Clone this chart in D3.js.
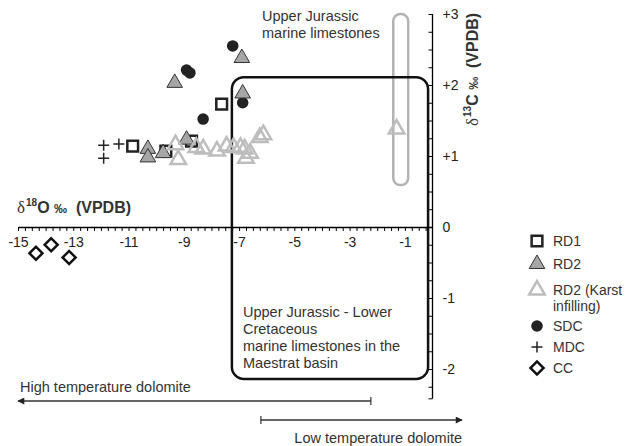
<!DOCTYPE html>
<html>
<head>
<meta charset="utf-8">
<script src="https://cdn.jsdelivr.net/npm/d3@7"></script>
<style>
  body { margin: 0; background: #fff; }
  text { font-family: "Liberation Sans", Arial, sans-serif; }
</style>
</head>
<body>
<div id="chart"></div>
<script>
// Data: [d18O, d13C] per sample group
const rd1 = [[-7.63, 1.73], [-10.85, 1.14], [-9.65, 1.07], [-8.72, 1.21]];
const rd2 = [[-6.9, 2.38], [-9.33, 2.03], [-6.87, 1.88], [-8.9, 1.23], [-10.3, 1.1], [-10.3, 0.98], [-9.75, 1.04]];
const rd2Karst = [[-9.3, 1.16], [-9.2, 0.95], [-8.55, 1.12], [-8.3, 1.1], [-7.8, 1.07], [-7.45, 1.14], [-7.2, 1.12],
                  [-6.95, 1.12], [-6.8, 1.1], [-6.75, 0.97], [-6.6, 1.04], [-6.25, 1.26], [-6.12, 1.3], [-1.3, 1.38]];
const sdc = [[-7.23, 2.55], [-8.9, 2.21], [-8.78, 2.17], [-6.87, 1.75], [-8.3, 1.52]];
const mdc = [[-11.9, 1.15], [-11.35, 1.17], [-11.9, 0.97]];
const cc = [[-14.35, -0.37], [-13.8, -0.25], [-13.15, -0.43]];

const xTickLabels = [-15, -13, -11, -9, -7, -5, -3, -1];
const yTickLabels = [3, 2, 1, 0, -1, -2];

const legendNames = ['RD1', 'RD2', 'RD2 (Karst|infilling)', 'SDC', 'MDC', 'CC'];

// Fields drawn as boxes: [x0, x1, y0, y1]
const marineBox = [-7.26, -0.16, -2.14, 2.11];
const jurassicBar = [-1.42, -0.88, 0.59, 3.0];

const width = 626, height = 446;

const svg = d3.select('#chart').append('svg')
    .attr('width', width)
    .attr('height', height);

const x = d3.scaleLinear().domain([-15, 0]).range([18, 432.5]);
const y = d3.scaleLinear().domain([-2, 3]).range([369, 14]);

// Field boxes
svg.append('rect')
    .attr('x', x(jurassicBar[0]))
    .attr('y', y(jurassicBar[3]))
    .attr('width', x(jurassicBar[1]) - x(jurassicBar[0]))
    .attr('height', y(jurassicBar[2]) - y(jurassicBar[3]))
    .attr('rx', 7).attr('ry', 7)
    .attr('fill', 'none')
    .attr('stroke', '#b3b3b3')
    .attr('stroke-width', 2.5);

svg.append('rect')
    .attr('x', x(marineBox[0]))
    .attr('y', y(marineBox[3]))
    .attr('width', x(marineBox[1]) - x(marineBox[0]))
    .attr('height', y(marineBox[2]) - y(marineBox[3]))
    .attr('rx', 12).attr('ry', 12)
    .attr('fill', 'none')
    .attr('stroke', '#111')
    .attr('stroke-width', 2.5);

svg.append('text')
    .attr('x', 262).attr('y', 21)
    .attr('font-size', 14.5).attr('fill', '#333')
    .selectAll('tspan')
    .data(['Upper Jurassic', 'marine limestones'])
    .join('tspan')
    .attr('x', 262)
    .attr('dy', (d, i) => i ? 17 : 0)
    .text(d => d);

svg.append('text')
    .attr('x', 243).attr('y', 317)
    .attr('font-size', 14.5).attr('fill', '#333')
    .selectAll('tspan')
    .data(['Upper Jurassic - Lower', 'Cretaceous', 'marine limestones in the', 'Maestrat basin'])
    .join('tspan')
    .attr('x', 243)
    .attr('dy', (d, i) => i ? 17 : 0)
    .text(d => d);

// Axes
const xTicks = d3.range(-15, 0, 0.25);
const xAxis = svg.append('g')
    .attr('transform', `translate(0,${y(0)})`)
    .call(d3.axisBottom(x)
        .tickValues(xTicks)
        .tickSizeInner(4)
        .tickSizeOuter(0)
        .tickPadding(6)
        .tickFormat(d => xTickLabels.includes(d) ? String(d) : ''));
xAxis.selectAll('text').attr('font-size', 14).attr('fill', '#222').attr('font-family', '"Liberation Sans", Arial, sans-serif');
xAxis.select('.domain').attr('stroke-width', 1.3);

const yTicks = d3.range(-2.25, 3.01, 0.25);
const yAxis = svg.append('g')
    .attr('transform', `translate(${x(0)},0)`)
    .call(d3.axisRight(y)
        .tickValues(yTicks)
        .tickSizeInner(-4)
        .tickSizeOuter(-4)
        .tickPadding(10)
        .tickFormat(d => yTickLabels.includes(d) ? (d > 0 ? '+' + d : String(d)) : ''));
yAxis.select('.domain').remove();
yAxis.append('line')
    .attr('x1', 0).attr('x2', 0)
    .attr('y1', y(3)).attr('y2', y(-2.42))
    .attr('stroke', '#000').attr('stroke-width', 1.3);
yAxis.append('line')
    .attr('x1', -4).attr('x2', 0)
    .attr('y1', y(-2.42)).attr('y2', y(-2.42))
    .attr('stroke', '#000');
yAxis.selectAll('text').attr('font-size', 14).attr('fill', '#222').attr('font-family', '"Liberation Sans", Arial, sans-serif');

// Axis titles
const addTitle = (sel, sup, letter) => {
    sel.append('tspan').attr('font-family', '"Liberation Serif", serif').attr('font-size', 17).text('δ');
    sel.append('tspan').attr('font-size', 10).attr('font-weight', 'bold').attr('dx', 1).attr('dy', -7).text(sup);
    sel.append('tspan').attr('font-weight', 'bold').attr('dy', 7).text(letter + '\u00a0');
    sel.append('tspan').attr('font-weight', 'bold').attr('font-size', 13).text('‰');
    sel.append('tspan').attr('font-weight', 'bold').text('\u00a0\u00a0(VPDB)');
};

addTitle(svg.append('text')
    .attr('x', 17).attr('y', 213)
    .attr('font-size', 16).attr('fill', '#333'), '18', 'O');

addTitle(svg.append('text')
    .attr('transform', 'translate(478,126) rotate(-90)')
    .attr('font-size', 16).attr('fill', '#333'), '13', 'C');

// Marker styles
const sym = {
    square: d3.symbol().type(d3.symbolSquare).size(115)(),
    triangle: d3.symbol().type(d3.symbolTriangle).size(105)(),
    circle: d3.symbol().type(d3.symbolCircle).size(105)(),
    diamond: d3.symbol().type(d3.symbolSquare).size(85)()
};

const drawPoints = (data, path, fill, stroke, strokeWidth, rotate) => {
    svg.append('g').selectAll('path')
        .data(data)
        .join('path')
        .attr('d', path)
        .attr('transform', d => `translate(${x(d[0])},${y(d[1])})` + (rotate ? ' rotate(45)' : ''))
        .attr('fill', fill)
        .attr('stroke', stroke)
        .attr('stroke-width', strokeWidth);
};

drawPoints(rd1, sym.square, '#fff', '#222', 2.5);
drawPoints(sdc, sym.circle, '#222', 'none', 0);
drawPoints(rd2, sym.triangle, '#a6a6a6', '#333', 1);
drawPoints(rd2Karst, sym.triangle, 'none', '#bdbdbd', 2.5);

svg.append('g').selectAll('path')
    .data(mdc)
    .join('path')
    .attr('d', 'M-5.5,0H5.5M0,-5.5V5.5')
    .attr('transform', d => `translate(${x(d[0])},${y(d[1])})`)
    .attr('stroke', '#222')
    .attr('stroke-width', 1.5);

drawPoints(cc, sym.diamond, '#fff', '#111', 2.5, true);

// Legend
const legend = svg.append('g').attr('transform', 'translate(537,0)');
const legendY = [241, 264, 290, 326, 347, 368];
const legendMarks = [
    { d: sym.square, fill: '#fff', stroke: '#222', sw: 2.5 },
    { d: sym.triangle, fill: '#a6a6a6', stroke: '#333', sw: 1 },
    { d: sym.triangle, fill: 'none', stroke: '#bdbdbd', sw: 2.5 },
    { d: sym.circle, fill: '#222', stroke: 'none', sw: 0 },
    { d: 'M-5.5,0H5.5M0,-5.5V5.5', fill: 'none', stroke: '#222', sw: 1.5 },
    { d: sym.diamond, fill: '#fff', stroke: '#111', sw: 2.5, rot: true }
];
legendNames.forEach((name, i) => {
    const m = legendMarks[i];
    legend.append('path')
        .attr('d', m.d)
        .attr('transform', `translate(0,${legendY[i]})` + (m.rot ? ' rotate(45)' : ''))
        .attr('fill', m.fill)
        .attr('stroke', m.stroke)
        .attr('stroke-width', m.sw);
    const t = legend.append('text')
        .attr('x', 16).attr('y', legendY[i] + 5)
        .attr('font-size', 14).attr('fill', '#333');
    name.split('|').forEach((line, j) => {
        t.append('tspan').attr('x', 16).attr('dy', j ? 16 : 0).text(line);
    });
});

// Temperature arrows
const defs = svg.append('defs');
defs.append('marker')
    .attr('id', 'arrow')
    .attr('viewBox', '0 0 10 10')
    .attr('refX', 9).attr('refY', 5)
    .attr('markerWidth', 11).attr('markerHeight', 7)
    .attr('markerUnits', 'userSpaceOnUse')
    .attr('orient', 'auto')
    .append('path')
    .attr('d', 'M0,0L10,5L0,10Z')
    .attr('fill', '#222');

const arrows = [
    { from: -2.23, to: -15, yPos: 401, label: 'High temperature dolomite', lx: 20, ly: 392, anchor: 'start' },
    { from: -6.21, to: 1.07, yPos: 420, label: 'Low temperature dolomite', lx: 462, ly: 443, anchor: 'end' }
];
arrows.forEach(a => {
    svg.append('line')
        .attr('x1', x(a.from)).attr('x2', x(a.to))
        .attr('y1', a.yPos).attr('y2', a.yPos)
        .attr('stroke', '#333').attr('stroke-width', 1.5)
        .attr('marker-end', 'url(#arrow)');
    svg.append('line')
        .attr('x1', x(a.from)).attr('x2', x(a.from))
        .attr('y1', a.yPos - 4).attr('y2', a.yPos + 4)
        .attr('stroke', '#333').attr('stroke-width', 1.2);
    svg.append('text')
        .attr('x', a.lx).attr('y', a.ly)
        .attr('text-anchor', a.anchor)
        .attr('font-size', 14.5).attr('fill', '#333')
        .text(a.label);
});
</script>
</body>
</html>
